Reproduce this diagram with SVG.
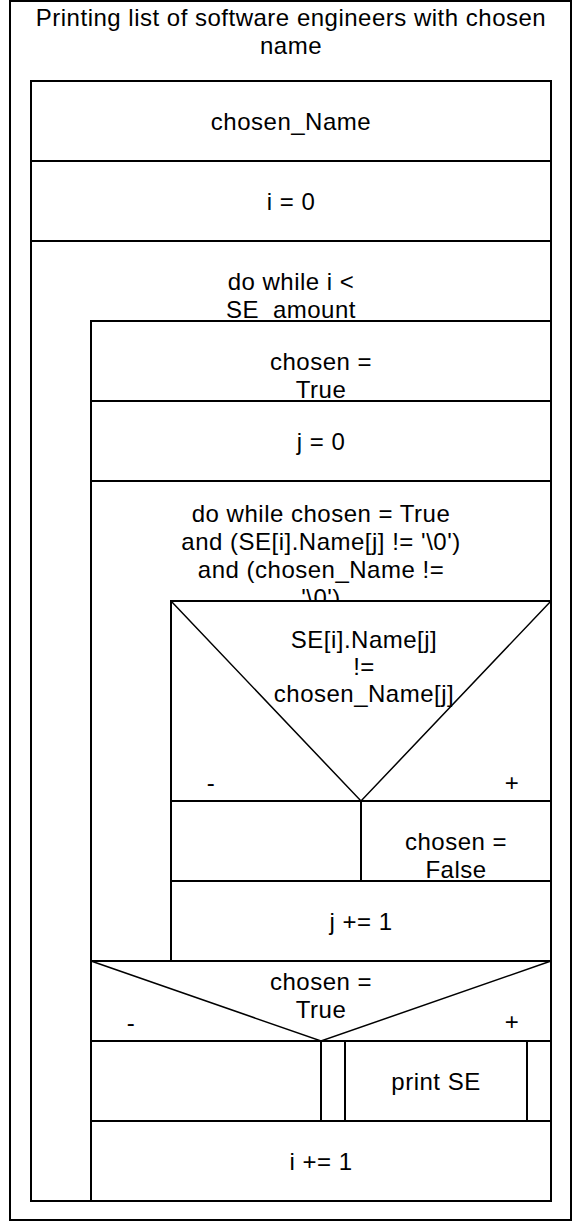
<svg xmlns="http://www.w3.org/2000/svg" width="582" height="1222" viewBox="0 0 582 1222">
<style>
.b{fill:#fff;stroke:#000;stroke-width:2}
.d{fill:none;stroke:#000;stroke-width:1.5}
.l{fill:none;stroke:#000;stroke-width:2}
text{font-family:"Liberation Sans",Arial,sans-serif;font-size:24px;fill:#000;text-anchor:middle;letter-spacing:0.5px}
</style>
<rect x="0" y="0" width="582" height="1222" fill="#fff"/>
<g id="frame">
<rect class="b" x="10" y="1" width="561" height="1219"/>
<text x="291" y="26">Printing list of software engineers with chosen</text>
<text x="291" y="54">name</text>
</g>
<g id="seq">
<rect class="b" x="31" y="81" width="520" height="1120"/>
</g>
<g id="n_chosenName">
<rect class="b" x="31" y="81" width="520" height="80"/>
<text x="291" y="130">chosen_Name</text>
</g>
<g id="n_i0">
<rect class="b" x="31" y="161" width="520" height="80"/>
<text x="291" y="210">i = 0</text>
</g>
<g id="loop_outer">
<rect class="b" x="31" y="241" width="520" height="960"/>
<text x="291" y="290">do while i &lt;</text>
<text x="291" y="318">SE_amount</text>
</g>
<g id="n_chosenTrue">
<rect class="b" x="91" y="321" width="460" height="80"/>
<text x="321" y="370">chosen =</text>
<text x="321" y="398">True</text>
</g>
<g id="n_j0">
<rect class="b" x="91" y="401" width="460" height="80"/>
<text x="321" y="450">j = 0</text>
</g>
<g id="loop_inner">
<rect class="b" x="91" y="481" width="460" height="480"/>
<text x="321" y="522">do while chosen = True</text>
<text x="321" y="550">and (SE[i].Name[j] != '\0')</text>
<text x="321" y="578">and (chosen_Name !=</text>
<text x="321" y="606">'\0')</text>
</g>
<g id="if_name">
<rect class="b" x="171" y="601" width="380" height="200"/>
<polyline class="d" points="171,601 361,801 551,601"/>
<text x="364" y="648">SE[i].Name[j]</text>
<text x="364" y="675">!=</text>
<text x="364" y="702">chosen_Name[j]</text>
<text x="211" y="791">-</text>
<text x="512" y="791">+</text>
</g>
<g id="if_name_no">
<rect class="b" x="171" y="801" width="190" height="80"/>
</g>
<g id="n_chosenFalse">
<rect class="b" x="361" y="801" width="190" height="80"/>
<text x="456" y="850">chosen =</text>
<text x="456" y="878">False</text>
</g>
<g id="n_jinc">
<rect class="b" x="171" y="881" width="380" height="80"/>
<text x="361" y="930">j += 1</text>
</g>
<g id="if_chosen">
<rect class="b" x="91" y="961" width="460" height="80"/>
<polyline class="d" points="91,961 321,1041 551,961"/>
<text x="321" y="990">chosen =</text>
<text x="321" y="1018">True</text>
<text x="131" y="1031">-</text>
<text x="512" y="1030">+</text>
</g>
<g id="if_chosen_no">
<rect class="b" x="91" y="1041" width="230" height="80"/>
</g>
<g id="n_printSE">
<rect class="b" x="321" y="1041" width="230" height="80"/>
<line class="l" x1="345" y1="1041" x2="345" y2="1121"/>
<line class="l" x1="527" y1="1041" x2="527" y2="1121"/>
<text x="436" y="1090">print SE</text>
</g>
<g id="n_iinc">
<rect class="b" x="91" y="1121" width="460" height="80"/>
<text x="321" y="1170">i += 1</text>
</g>
</svg>
